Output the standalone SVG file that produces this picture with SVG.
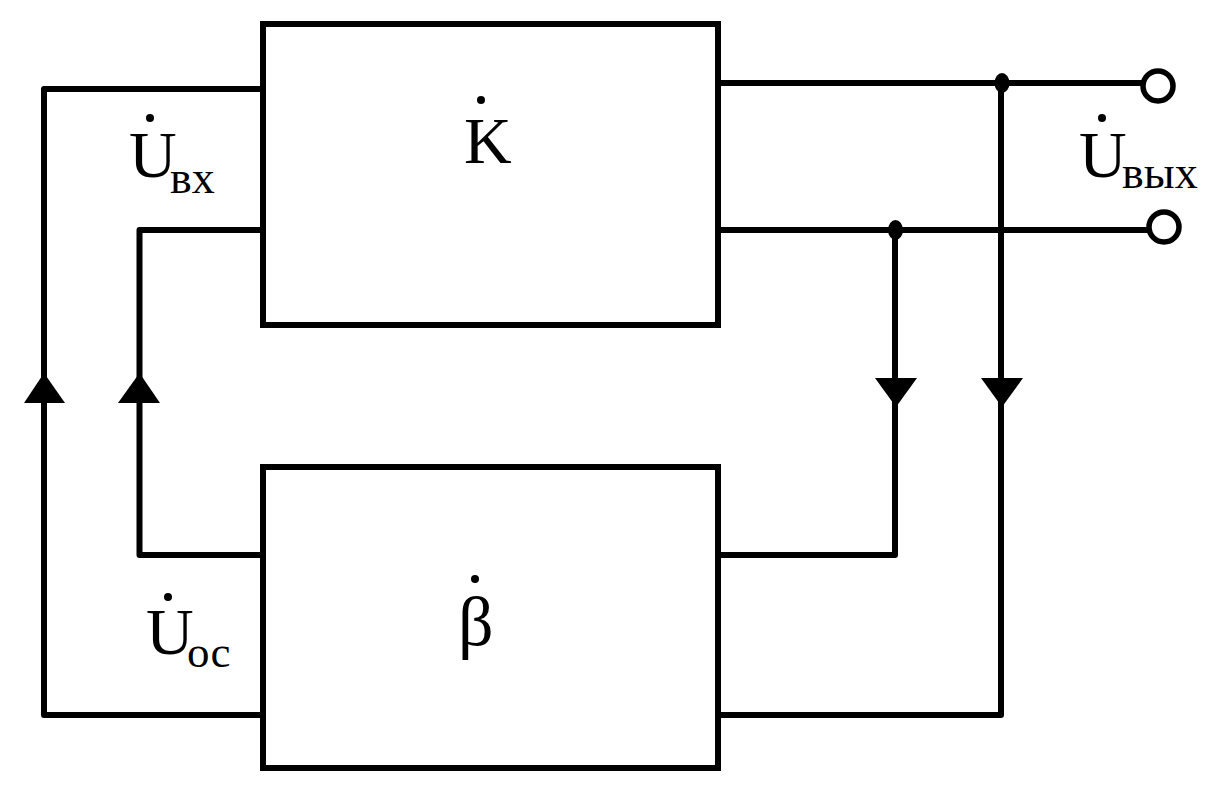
<svg xmlns="http://www.w3.org/2000/svg" width="1227" height="791" viewBox="0 0 1227 791">
<defs>
<style>
.box{fill:#fff;stroke:#000;stroke-width:6}
.wire{fill:none;stroke:#000;stroke-width:6;stroke-linejoin:round}
.term{fill:#fff;stroke:#000;stroke-width:5.5}
.t{font-family:"Liberation Serif","Times New Roman",serif;fill:#000;font-size:66px}
.sub{font-size:46px}
</style>
</defs>
<rect width="1227" height="791" fill="#fff"/>
<g id="connectors">
<path class="wire" d="M263 89H44V715H263"/>
<path class="wire" d="M263 230H139.500V555H263"/>
<path class="wire" d="M718 83H1146"/>
<path class="wire" d="M718 230H1150"/>
<path class="wire" d="M895 230V555H718"/>
<path class="wire" d="M1001 83V715H718"/>
<path d="M44 373L65 403H24Z"/>
<path d="M139.500 373L160 403H118Z"/>
<path d="M896 407L917 378H875Z"/>
<path d="M1002 407L1023 378H981Z"/>
</g>
<g id="node-k">
<rect class="box" x="263" y="24" width="455" height="301"/>
<circle cx="481" cy="100" r="4"/>
<text class="t" x="464" y="163">K</text>
</g>
<g id="node-beta">
<rect class="box" x="263" y="467" width="455" height="301"/>
<circle cx="475" cy="579" r="4"/>
<text class="t" x="458" y="645" style="font-size:70px">β</text>
</g>
<g id="junction-top"><ellipse cx="1002" cy="83" rx="7.500" ry="10"/></g>
<g id="junction-bottom"><ellipse cx="895.500" cy="230" rx="7.500" ry="10"/></g>
<g id="terminal-top"><circle class="term" cx="1158" cy="86" r="15"/></g>
<g id="terminal-bottom"><circle class="term" cx="1164" cy="227" r="15"/></g>
<g id="label-uvx">
<circle cx="150" cy="118" r="4"/>
<text class="t" x="129" y="177">U<tspan class="sub" x="170" y="193">вх</tspan></text>
</g>
<g id="label-uvyx">
<circle cx="1102" cy="118" r="4"/>
<text class="t" x="1079" y="177">U<tspan class="sub" x="1122" y="188">вых</tspan></text>
</g>
<g id="label-uos">
<circle cx="168" cy="597" r="4"/>
<text class="t" x="146" y="654">U<tspan class="sub" x="187" y="667" style="font-size:45px">ос</tspan></text>
</g>
</svg>
